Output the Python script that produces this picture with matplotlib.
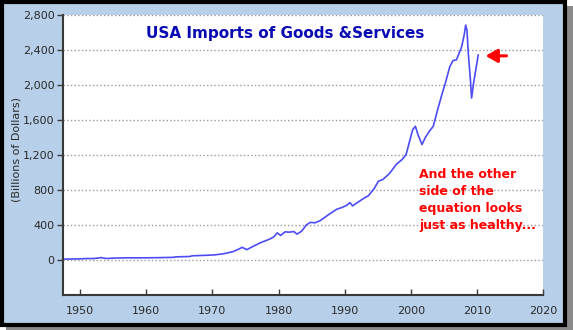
import matplotlib
matplotlib.use('Agg')
import matplotlib.pyplot as plt
from matplotlib.patches import Rectangle
from matplotlib.ticker import FuncFormatter

# Imports of goods & services, billions of dollars (annualised)
years = [1947.7, 1949.0, 1950.0, 1951.0, 1952.0, 1952.8, 1953.2, 1953.6, 1954.2, 1954.6,
         1955.2, 1957.0, 1960.0, 1962.0, 1964.0, 1964.5, 1966.5, 1967.0, 1969.5, 1970.5,
         1971.6, 1972.5, 1973.1, 1974.0, 1974.5, 1975.2, 1976.0, 1977.2, 1978.7, 1979.3,
         1979.8, 1980.3, 1981.0, 1981.6, 1982.3, 1982.8, 1983.5, 1984.2, 1984.8, 1985.5,
         1986.3, 1987.5, 1988.8, 1989.6, 1990.3, 1990.8, 1991.2, 1992.0, 1993.0, 1993.6,
         1994.5, 1995.1, 1995.8, 1996.8, 1997.8, 1998.7, 1999.3, 1999.9, 2000.3, 2000.7,
         2001.1, 2001.7, 2002.2, 2002.8, 2003.4, 2004.0, 2004.7, 2005.3, 2005.9, 2006.4,
         2006.9, 2007.3, 2007.7, 2008.1, 2008.3, 2008.5, 2008.7, 2009.0, 2009.2, 2009.5,
         2010.0, 2010.2]
imports = [10, 12, 13, 17, 17, 23, 28, 20, 17, 20,
           22, 25, 25, 27, 30, 36, 40, 48, 55, 60,
           70, 85, 95, 125, 145, 118, 150, 195, 240, 265,
           310, 280, 322, 318, 325, 296, 330, 400, 430, 425,
           450, 515, 580, 600, 625, 656, 618, 660, 710, 735,
           820, 900, 921, 990, 1092, 1149, 1206, 1380, 1490, 1528,
           1430, 1320, 1400, 1470, 1528, 1700, 1889, 2040, 2210, 2280,
           2287, 2360, 2438, 2580, 2685, 2628, 2363, 2082, 1851, 2022,
           2249, 2343]

y_ticks = [0, 400, 800, 1200, 1600, 2000, 2400, 2800]
x_ticks = [1950, 1960, 1970, 1980, 1990, 2000, 2010, 2020]

W, H = 573, 330
fig = plt.figure(figsize=(W / 100, H / 100), dpi=100)
fig.patch.set_facecolor('white')


def px_rect(x0, y0, x1, y1, **kw):
    # rectangle given in pixels from the top-left corner
    return Rectangle((x0 / W, 1 - y1 / H), (x1 - x0) / W, (y1 - y0) / H,
                     transform=fig.transFigure, **kw)


# drop shadow and framed light-blue panel
fig.patches.append(px_rect(6, 6, 573, 330, facecolor='#8a8a8a', edgecolor='none', zorder=0))
fig.patches.append(px_rect(1.5, 1.5, 564.5, 324.5, facecolor='#b7cfe8', edgecolor='black',
                           linewidth=3, zorder=1))

ax = fig.add_axes([63 / W, 1 - 295 / H, (543 - 63) / W, (295 - 15) / H])
ax.set_facecolor('white')
ax.set_zorder(2)

ax.plot(years, imports, color='#4c4cf5', linewidth=1.2, zorder=3)

ax.set_xlim(1947.4, 2020)
ax.set_ylim(-400, 2800)
ax.set_yticks(y_ticks)
ax.set_xticks(x_ticks)
ax.yaxis.set_major_formatter(FuncFormatter(lambda v, p: f'{int(v):,}'))
ax.grid(axis='y', linestyle=':', color='#999999', linewidth=1)
ax.set_axisbelow(True)

for side in ['top', 'right']:
    ax.spines[side].set_visible(False)
for side in ['left', 'bottom']:
    ax.spines[side].set_color('#3a3a3a')
    ax.spines[side].set_linewidth(1.5)

ax.tick_params(axis='y', direction='out', length=4, width=1, color='#3a3a3a',
               labelsize=8, labelcolor='#2a2a2a', pad=2)
ax.tick_params(axis='x', direction='in', length=4, width=1, color='#3a3a3a',
               labelsize=8, labelcolor='#2a2a2a', pad=8)

ax.set_ylabel('(Billions of Dollars)', fontsize=8, color='#2a2a2a')
ax.yaxis.set_label_coords(-0.087, 0.52)

ax.text(0.462, 0.935, 'USA Imports of Goods &Services', transform=ax.transAxes,
        ha='center', va='center', fontsize=11, fontweight='bold', color='#0a0ab4')

ax.text(0.742, 0.455, 'And the other\nside of the\nequation looks\njust as healthy...',
        transform=ax.transAxes, ha='left', va='top', fontsize=9, fontweight='bold',
        color='#ff0000', linespacing=1.4)

# arrow pointing at the latest value
ax.annotate('', xy=(2010.9, 2333), xytext=(2014.9, 2333),
            arrowprops=dict(arrowstyle='-|>,head_length=0.7,head_width=0.4',
                            color='#ff0000', linewidth=2.2))

fig.savefig('out.png', dpi=100, facecolor=fig.get_facecolor())
